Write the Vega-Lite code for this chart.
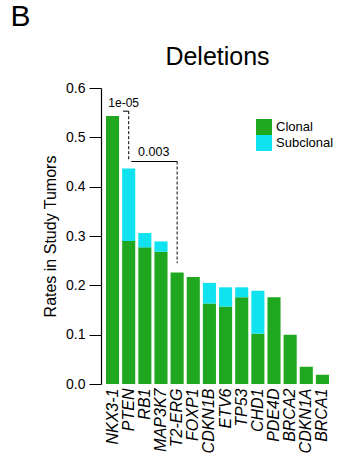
{
  "$schema": "https://vega.github.io/schema/vega-lite/v6.json",
  "padding": {"left": 10, "top": 2, "right": 5, "bottom": 5},
  "config": {
    "font": "Liberation Sans",
    "view": {"stroke": null},
    "title": {"font": "Liberation Sans", "fontWeight": "normal", "color": "#000"},
    "axis": {"labelFont": "Liberation Sans", "titleFont": "Liberation Sans", "labelColor": "#000", "titleColor": "#000", "domainColor": "#000", "tickColor": "#000"}
  },
  "title": {"text": "B", "anchor": "start", "fontSize": 30, "dx": -32, "offset": 13},
  "datasets": {
    "rates": [
      {"gene": "NKX3-1", "status": "Clonal", "rate": 0.543},
      {"gene": "PTEN", "status": "Clonal", "rate": 0.290},
      {"gene": "PTEN", "status": "Subclonal", "rate": 0.147},
      {"gene": "RB1", "status": "Clonal", "rate": 0.277},
      {"gene": "RB1", "status": "Subclonal", "rate": 0.029},
      {"gene": "MAP3K7", "status": "Clonal", "rate": 0.268},
      {"gene": "MAP3K7", "status": "Subclonal", "rate": 0.021},
      {"gene": "T2-ERG", "status": "Clonal", "rate": 0.226},
      {"gene": "FOXP1", "status": "Clonal", "rate": 0.217},
      {"gene": "CDKN1B", "status": "Clonal", "rate": 0.163},
      {"gene": "CDKN1B", "status": "Subclonal", "rate": 0.042},
      {"gene": "ETV6", "status": "Clonal", "rate": 0.157},
      {"gene": "ETV6", "status": "Subclonal", "rate": 0.039},
      {"gene": "TP53", "status": "Clonal", "rate": 0.176},
      {"gene": "TP53", "status": "Subclonal", "rate": 0.020},
      {"gene": "CHD1", "status": "Clonal", "rate": 0.102},
      {"gene": "CHD1", "status": "Subclonal", "rate": 0.087},
      {"gene": "PDE4D", "status": "Clonal", "rate": 0.176},
      {"gene": "BRCA2", "status": "Clonal", "rate": 0.100},
      {"gene": "CDKN1A", "status": "Clonal", "rate": 0.035},
      {"gene": "BRCA1", "status": "Clonal", "rate": 0.019}
    ],
    "bracket1": [{"from": "NKX3-1", "to": "PTEN", "y": 0.553, "y2": 0.454, "label": "1e-05", "ly": 0.570}],
    "bracket2": [{"from": "PTEN", "to": "T2-ERG", "y": 0.451, "y2": 0.245, "label": "0.003", "ly": 0.471}]
  },
  "vconcat": [
    {
      "title": {"text": "Deletions", "fontSize": 25, "offset": 11},
      "width": 233,
      "height": 296,
      "layer": [
        {
          "data": {"name": "rates"},
          "mark": {"type": "bar"},
          "encoding": {
            "x": {"field": "gene", "type": "nominal", "sort": null,
              "scale": {"paddingInner": 0.19, "paddingOuter": 0.31},
              "axis": {"title": null, "labelAngle": -90, "labelFontSize": 16, "labelFontStyle": "italic", "domain": false, "ticks": false, "labelPadding": 4}},
            "y": {"field": "rate", "type": "quantitative", "stack": "zero",
              "scale": {"domain": [0, 0.6], "nice": false},
              "axis": {"title": "Rates in Study Tumors", "titleFontSize": 16, "titleFontWeight": "normal", "labelFontSize": 14, "format": ".1f", "values": [0, 0.1, 0.2, 0.3, 0.4, 0.5, 0.6], "grid": false, "tickSize": 12, "labelPadding": 4, "titlePadding": 7, "domainWidth": 1.2}},
            "color": {"field": "status", "type": "nominal",
              "scale": {"domain": ["Clonal", "Subclonal"], "range": ["#1fa81f", "#10e2f0"]},
              "legend": {"title": null, "orient": "none", "legendX": 155, "legendY": 31, "symbolType": "square", "symbolSize": 256, "symbolStrokeWidth": 0, "symbolOpacity": 1, "labelFontSize": 13, "labelFont": "Liberation Sans", "labelColor": "#000", "rowPadding": 0, "labelOffset": 4}},
            "order": {"field": "status", "sort": "ascending"}
          }
        },
        {
          "data": {"name": "bracket1"},
          "mark": {"type": "rule", "color": "#000", "strokeWidth": 1},
          "encoding": {
            "x": {"field": "from", "type": "nominal", "sort": null, "bandPosition": 1.3},
            "x2": {"field": "to"},
            "y": {"field": "y", "type": "quantitative"}
          }
        },
        {
          "data": {"name": "bracket1"},
          "mark": {"type": "rule", "color": "#000", "strokeWidth": 1, "strokeDash": [3, 2]},
          "encoding": {
            "x": {"field": "to", "type": "nominal", "sort": null},
            "y": {"field": "y", "type": "quantitative"},
            "y2": {"field": "y2"}
          }
        },
        {
          "data": {"name": "bracket1"},
          "mark": {"type": "text", "fontSize": 12, "baseline": "middle", "align": "center", "dx": -5},
          "encoding": {
            "x": {"field": "to", "type": "nominal", "sort": null},
            "y": {"field": "ly", "type": "quantitative"},
            "text": {"field": "label"}
          }
        },
        {
          "data": {"name": "bracket2"},
          "mark": {"type": "rule", "color": "#000", "strokeWidth": 1},
          "encoding": {
            "x": {"field": "from", "type": "nominal", "sort": null, "bandPosition": 0.7},
            "x2": {"field": "to"},
            "y": {"field": "y", "type": "quantitative"}
          }
        },
        {
          "data": {"name": "bracket2"},
          "mark": {"type": "rule", "color": "#000", "strokeWidth": 1, "strokeDash": [3, 2]},
          "encoding": {
            "x": {"field": "to", "type": "nominal", "sort": null},
            "y": {"field": "y", "type": "quantitative"},
            "y2": {"field": "y2"}
          }
        },
        {
          "data": {"name": "bracket2"},
          "mark": {"type": "text", "fontSize": 12.5, "baseline": "middle", "align": "center", "dx": 25},
          "encoding": {
            "x": {"field": "from", "type": "nominal", "sort": null},
            "y": {"field": "ly", "type": "quantitative"},
            "text": {"field": "label"}
          }
        }
      ]
    }
  ]
}
